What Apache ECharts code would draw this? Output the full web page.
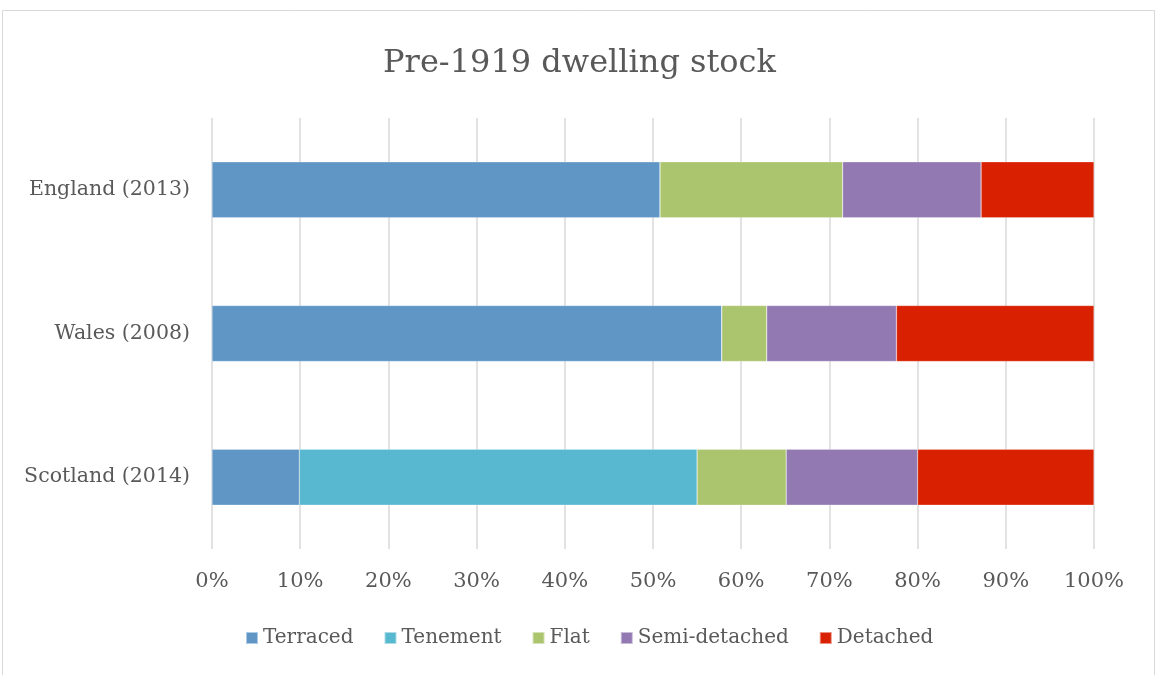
<!DOCTYPE html>
<html><head><meta charset="utf-8">
<script src="https://cdn.jsdelivr.net/npm/echarts@6/dist/echarts.min.js"></script>
<style>html,body{margin:0;padding:0;background:#fff}#c{width:1159px;height:675px}</style>
</head><body><div id="c"></div>
<script>
const categories = ['Scotland (2014)', 'Wales (2008)', 'England (2013)'];
const terraced = [9.9, 57.8, 50.8];
const tenement = [45.1, 0, 0];
const flat = [10.1, 5.1, 20.7];
const semiDetached = [14.9, 14.7, 15.7];
const detached = [20.0, 22.4, 12.8];
const xTicks = [0,10,20,30,40,50,60,70,80,90,100];

const FONT = 'DejaVu Serif';
const TXT = '#595959';
const names = ['Terraced','Tenement','Flat','Semi-detached','Detached'];
const colors = ['#5F96C6','#57B8D0','#ABC46E','#9279B2','#D92000'];
const data = [terraced, tenement, flat, semiDetached, detached];

const chart = echarts.init(document.getElementById('c'));
chart.setOption({
  animation:false,
  title:{text:'Pre-1919 dwelling stock', left:'center', top:43,
    textStyle:{fontFamily:FONT, fontSize:32, fontWeight:'normal', color:TXT}},
  graphic:[{type:'rect', shape:{x:2.5,y:10.5,width:1152,height:700},
    style:{fill:'none', stroke:'#d9d9d9', lineWidth:1}}],
  legend:{bottom:22, left:240, itemWidth:12, itemHeight:12, itemGap:30,
    icon:'rect', data:names,
    textStyle:{fontFamily:FONT, fontSize:20, color:TXT, padding:[0,0,0,0]}},
  grid:{left:212, right:65, top:118, bottom:126},
  xAxis:{type:'value', min:0, max:100, interval:10,
    axisLabel:{formatter:'{value}%', fontFamily:FONT, fontSize:21, color:TXT, margin:22},
    splitLine:{lineStyle:{color:'#d9d9d9', width:1.5}},
    axisLine:{show:false}, axisTick:{show:false}},
  yAxis:{type:'category', data:categories,
    axisLabel:{fontFamily:FONT, fontSize:20.5, color:TXT, margin:22},
    axisLine:{show:false}, axisTick:{show:false}},
  series: names.map((n,i)=>({
    name:n, type:'bar', stack:'s', barWidth:56, data:data[i],
    itemStyle:{color:colors[i], borderColor:'rgba(255,255,255,0.5)', borderWidth:0.5}
  }))
});
</script></body></html>
